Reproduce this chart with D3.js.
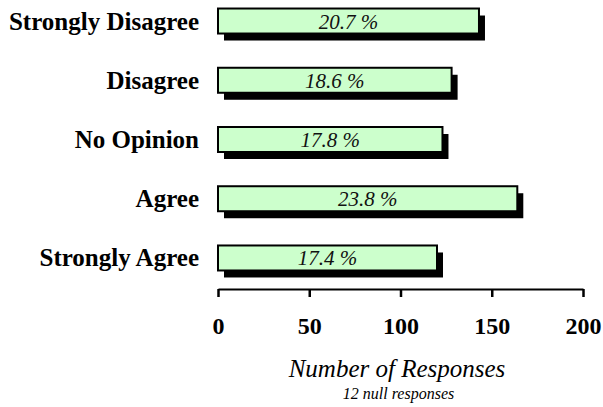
<!DOCTYPE html>
<html><head><meta charset="utf-8">
<script src="https://cdn.jsdelivr.net/npm/d3@7"></script>
<style>
body{margin:0;background:#fff}svg{display:block}
svg text{font-family:"Liberation Serif","Times New Roman",Tinos,serif}
</style>
</head><body>
<svg id="c" width="603" height="407"></svg>
<script>
const categories = ["Strongly Disagree","Disagree","No Opinion","Agree","Strongly Agree"];
const responses = [143, 128, 123, 164, 120];
const percentLabels = ["20.7 %","18.6 %","17.8 %","23.8 %","17.4 %"];
const xTicks = [0, 50, 100, 150, 200];
const xTitle = "Number of Responses";
const note = "12 null responses";

const svg = d3.select("#c");
const x = d3.scaleLinear().domain([0, 200]).range([218, 583]);
const y = d3.scaleBand().domain(categories).range([-8.6, 287.6]).paddingInner(0.578).paddingOuter(0.289);

const g = svg.append("g");
// shadows
g.selectAll("rect.sh").data(categories).join("rect").attr("class","sh")
  .attr("x", x(0) + 6).attr("y", d => y(d) + 7)
  .attr("width", (d,i) => x(responses[i]) - x(0)).attr("height", y.bandwidth())
  .attr("fill", "#000");
// bars
g.selectAll("rect.bar").data(categories).join("rect").attr("class","bar")
  .attr("x", x(0)).attr("y", d => y(d))
  .attr("width", (d,i) => x(responses[i]) - x(0)).attr("height", y.bandwidth())
  .attr("fill", "#ccffcc").attr("stroke", "#000").attr("stroke-width", 2);
// percent labels
g.selectAll("text.pct").data(categories).join("text").attr("class","pct")
  .attr("x", (d,i) => (x(0) + x(responses[i])) / 2)
  .attr("y", d => y(d) + y.bandwidth()/2 + 7.5)
  .attr("text-anchor", "middle").style("font-style","italic")
  .style("font-size", "21px").attr("fill", "#111").text((d,i) => percentLabels[i]);
// category labels
g.selectAll("text.cat").data(categories).join("text").attr("class","cat")
  .attr("x", 199).attr("y", d => y(d) + y.bandwidth()/2 + 8.5)
  .attr("text-anchor", "end").style("font-weight","bold")
  .style("font-size", "25px").attr("fill", "#000").text(d => d);

// x axis
const ax = svg.append("g").attr("transform", "translate(0,289)")
  .call(d3.axisBottom(x).tickValues(xTicks).tickSize(8).tickPadding(20).tickSizeOuter(0));
ax.attr("font-family", null);
ax.select(".domain").attr("stroke", "#000").attr("stroke-width", 2);
ax.selectAll(".tick line").attr("stroke", "#000").attr("stroke-width", 2.5);
ax.selectAll(".tick text").style("font-weight","bold")
  .style("font-size", "24px").attr("fill", "#000").attr("dy", null).attr("y", 45);

svg.append("text").attr("x", 397).attr("y", 377).attr("text-anchor","middle")
  .style("font-style","italic").style("font-size", "25px").text(xTitle);
svg.append("text").attr("x", 398.5).attr("y", 399).attr("text-anchor","middle")
  .style("font-style","italic").style("font-size", "16px").text(note);
</script>
</body></html>
